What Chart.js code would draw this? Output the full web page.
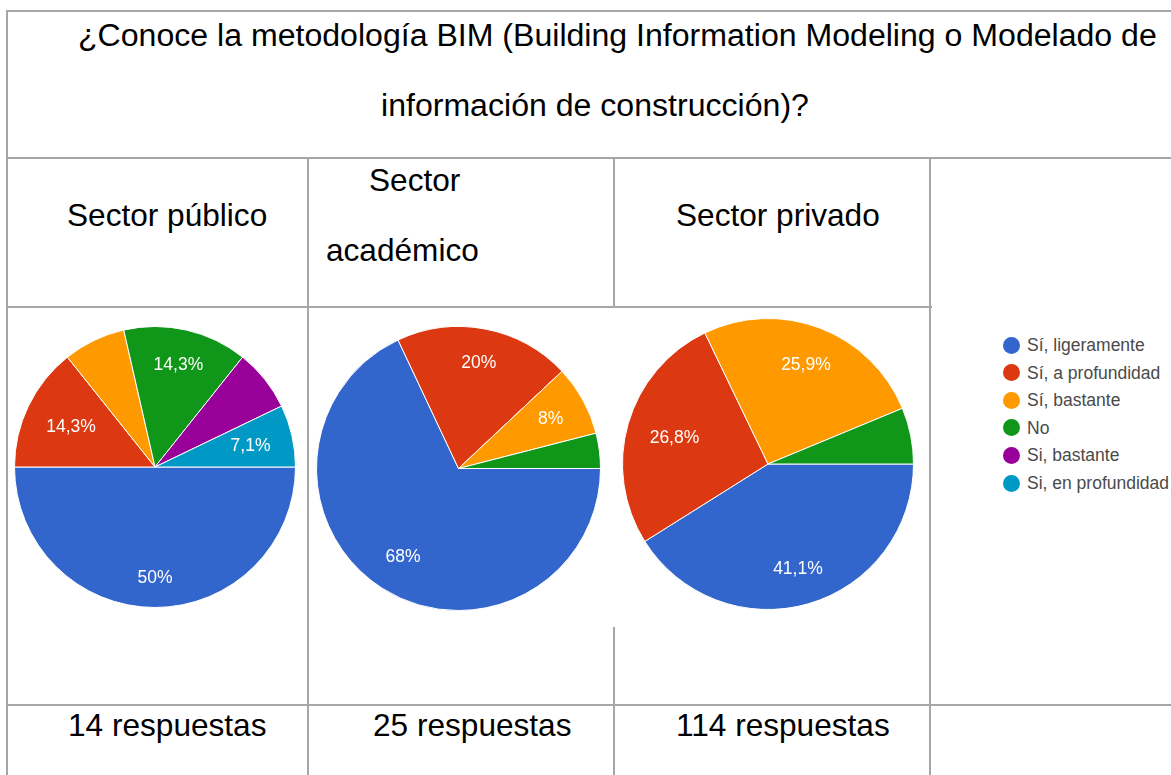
<!DOCTYPE html>
<html>
<head>
<meta charset="utf-8">
<script src="https://cdn.jsdelivr.net/npm/chart.js@4.4.0/dist/chart.umd.min.js"></script>
<style>
  html, body { margin: 0; padding: 0; background: #ffffff; }
  body { width: 1171px; height: 775px; position: relative; overflow: hidden; font-family: "Liberation Sans", Arial, sans-serif; }
  .t { position: absolute; white-space: nowrap; font-size: 31.6px; line-height: 31.6px; color: #000; }
  .tt { font-size: 32.1px; line-height: 32.1px; }
  .hl { position: absolute; height: 2px; background: #a6a6a6; }
  .vl { position: absolute; width: 2px; background: #a6a6a6; }
  canvas { position: absolute; }
  .leg { position: absolute; white-space: nowrap; font-size: 17.5px; line-height: 20px; color: #4a4a4a; }
  .dot { position: absolute; width: 17px; height: 17px; border-radius: 50%; }
</style>
</head>
<body>
<!-- table lines -->
<div class="hl" style="left:6px; top:10px; width:1165px;"></div>
<div class="hl" style="left:6px; top:157px; width:1165px;"></div>
<div class="hl" style="left:6px; top:306px; width:926px;"></div>
<div class="hl" style="left:6px; top:704px; width:1165px;"></div>
<div class="vl" style="left:6px; top:10px; height:765px;"></div>
<div class="vl" style="left:307px; top:157px; height:618px;"></div>
<div class="vl" style="left:613px; top:157px; height:151px;"></div>
<div class="vl" style="left:613px; top:627px; height:148px;"></div>
<div class="vl" style="left:929px; top:157px; height:618px;"></div>

<!-- texts -->
<div class="t tt" id="title1" style="left:78px; top:19px;"></div>
<div class="t tt" id="title2" style="left:381px; top:89px;"></div>
<div class="t" id="h1" style="left:67px; top:200px;"></div>
<div class="t" id="h2a" style="left:369px; top:165px;"></div>
<div class="t" id="h2b" style="left:326px; top:235px;"></div>
<div class="t" id="h3" style="left:676px; top:200px;"></div>
<div class="t" id="n1" style="left:68px; top:710px;"></div>
<div class="t" id="n2" style="left:373px; top:710px;"></div>
<div class="t" id="n3" style="left:676px; top:710px;"></div>

<canvas id="c1" width="282" height="282" style="left:14px; top:326px;"></canvas>
<canvas id="c2" width="285" height="285" style="left:316px; top:326px;"></canvas>
<canvas id="c3" width="292" height="292" style="left:622px; top:318px;"></canvas>

<div id="legend"></div>

<script>
// ---- data ----
const titleLines = ["¿Conoce la metodología BIM (Building Information Modeling o Modelado de", "información de construcción)?"];
const sectorNames = ["Sector público", "Sector", "académico", "Sector privado"];
const responseLabels = ["14 respuestas", "25 respuestas", "114 respuestas"];
const categories = ["Sí, ligeramente", "Sí, a profundidad", "Sí, bastante", "No", "Si, bastante", "Si, en profundidad"];
const colors = ["#3366cc", "#dc3912", "#ff9900", "#109618", "#990099", "#0099c6"];
const publicoValues = [7, 2, 1, 2, 1, 1];
const academicoValues = [17, 5, 2, 1, 0, 0];
const privadoValues = [46, 30, 29, 7, 0, 0];
const publicoHidden = [2, 4];
const academicoHidden = [3];
const privadoHidden = [3];

// ---- texts ----
document.getElementById('title1').textContent = titleLines[0];
document.getElementById('title2').textContent = titleLines[1];
document.getElementById('h1').textContent = sectorNames[0];
document.getElementById('h2a').textContent = sectorNames[1];
document.getElementById('h2b').textContent = sectorNames[2];
document.getElementById('h3').textContent = sectorNames[3];
document.getElementById('n1').textContent = responseLabels[0];
document.getElementById('n2').textContent = responseLabels[1];
document.getElementById('n3').textContent = responseLabels[2];

// ---- legend ----
const legend = document.getElementById('legend');
categories.forEach((c, i) => {
  const cy = 345 + i * 27.6;
  const d = document.createElement('div');
  d.className = 'dot';
  d.style.left = (1011 - 8.5) + 'px';
  d.style.top = (cy - 8.5) + 'px';
  d.style.background = colors[i];
  legend.appendChild(d);
  const t = document.createElement('div');
  t.className = 'leg';
  t.style.left = '1027px';
  t.style.top = (cy - 10) + 'px';
  t.textContent = c;
  legend.appendChild(t);
});

function fmtPct(v, total) {
  const p = Math.round(v / total * 1000) / 10;
  let s = p.toFixed(1).replace('.', ',');
  if (s.endsWith(',0')) s = s.slice(0, -2);
  return s + '%';
}

const labelPlugin = {
  id: 'sliceLabels',
  afterDatasetsDraw(chart, args, opts) {
    const ctx = chart.ctx;
    const meta = chart.getDatasetMeta(0);
    const data = chart.data.datasets[0].data;
    const total = data.reduce((a, b) => a + b, 0);
    ctx.save();
    ctx.font = '17.5px "Liberation Sans", Arial, sans-serif';
    ctx.fillStyle = '#ffffff';
    ctx.textAlign = 'center';
    ctx.textBaseline = 'middle';
    meta.data.forEach((arc, i) => {
      if (!data[i] || opts.hidden.includes(i)) return;
      const p = arc.getProps(['x', 'y', 'startAngle', 'endAngle', 'outerRadius'], true);
      const mid = (p.startAngle + p.endAngle) / 2;
      const txt = fmtPct(data[i], total);
      const hw = ctx.measureText(txt).width / 2;
      const hh = 9;
      const c = Math.cos(mid), s = Math.sin(mid);
      const d = p.outerRadius * 0.85 - (hw * Math.abs(c) + hh * Math.abs(s));
      ctx.fillText(txt, p.x + c * d, p.y + s * d + 1);
    });
    ctx.restore();
  }
};

function makePie(id, values, hidden) {
  new Chart(document.getElementById(id), {
    type: 'pie',
    data: {
      labels: categories,
      datasets: [{
        data: values,
        backgroundColor: colors,
        borderColor: '#ffffff',
        borderWidth: 1
      }]
    },
    options: {
      responsive: false,
      animation: false,
      rotation: 90,
      layout: { padding: 0 },
      plugins: {
        legend: { display: false },
        tooltip: { enabled: false },
        sliceLabels: { hidden: hidden }
      }
    },
    plugins: [labelPlugin]
  });
}

makePie('c1', publicoValues, publicoHidden);
makePie('c2', academicoValues, academicoHidden);
makePie('c3', privadoValues, privadoHidden);
</script>
</body>
</html>
